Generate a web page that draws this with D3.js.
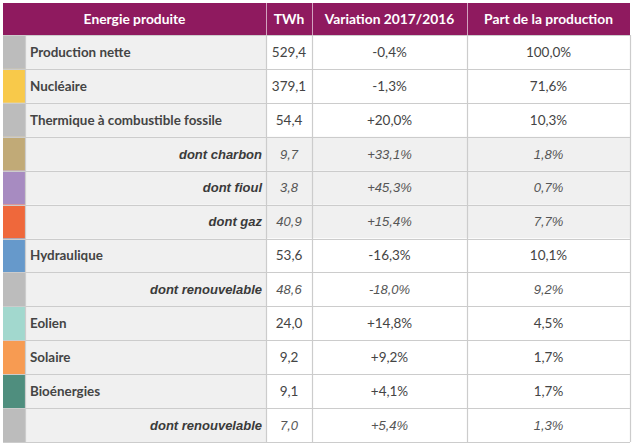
<!DOCTYPE html>
<html><head><meta charset="utf-8">
<script src="https://cdn.jsdelivr.net/npm/d3@7"></script>
<style>body{margin:0;background:#fff}svg{display:block}</style>
</head><body>
<svg id="c" width="634" height="447"></svg>
<script>
const headers = ["Energie produite", "TWh", "Variation 2017/2016", "Part de la production"];
const categories = ["Production nette","Nucléaire","Thermique à combustible fossile","dont charbon","dont fioul","dont gaz","Hydraulique","dont renouvelable","Eolien","Solaire","Bioénergies","dont renouvelable"];
const twh = ["529,4","379,1","54,4","9,7","3,8","40,9","53,6","48,6","24,0","9,2","9,1","7,0"];
const variation = ["-0,4%","-1,3%","+20,0%","+33,1%","+45,3%","+15,4%","-16,3%","-18,0%","+14,8%","+9,2%","+4,1%","+5,4%"];
const part = ["100,0%","71,6%","10,3%","1,8%","0,7%","7,7%","10,1%","9,2%","4,5%","1,7%","1,7%","1,3%"];
const isSub = [false,false,false,true,true,true,false,true,false,false,false,true];
const greyValues = [false,false,false,true,true,true,false,false,false,false,false,false];
const swatches = ["#bcbcbc","#f8c94a","#bcbcbc","#c1aa77","#a78bc1","#ef683b","#6699cb","#bcbcbc","#a2d8ce","#f79b52","#4f8e7e","#bcbcbc"];

const svg = d3.select("#c");
const colEdges = [3, 25, 266, 312, 467, 630];
const headerTop = 3, headerBottom = 35, bottom = 442;
const y = d3.scaleBand().domain(d3.range(categories.length)).range([headerBottom, bottom]);
const grid = "#cccccc";
const purple = "#8f1a5f";

// header
svg.append("rect").attr("x", 3).attr("y", headerTop).attr("width", 630-3).attr("height", headerBottom-headerTop).attr("fill", purple);
const hdrX = [(colEdges[0]+colEdges[2])/2, (colEdges[2]+colEdges[3])/2, (colEdges[3]+colEdges[4])/2, (colEdges[4]+colEdges[5])/2];
svg.selectAll("text.h").data(headers).join("text")
  .attr("x", (d,i)=>hdrX[i]).attr("y", (headerTop+headerBottom)/2+5)
  .attr("text-anchor","middle").attr("fill","#fff")
  .style("font-family","Lato, 'Open Sans', sans-serif").style("font-weight","700").style("font-size","13.8px")
  .text(d=>d);
[2,3,4].forEach(i=>svg.append("line").attr("x1",colEdges[i]+0.5).attr("x2",colEdges[i]+0.5).attr("y1",headerTop).attr("y2",headerBottom).attr("stroke","#fff").attr("stroke-opacity",0.6));

// rows
const rows = svg.selectAll("g.row").data(categories).join("g").attr("transform",(d,i)=>`translate(0,${y(i)})`);
const h = y.bandwidth();
rows.append("rect").attr("x",colEdges[1]).attr("width",colEdges[2]-colEdges[1]).attr("height",h).attr("fill","#f0f0f0");
rows.append("rect").attr("x",colEdges[2]).attr("width",colEdges[5]-colEdges[2]).attr("height",h).attr("fill",(d,i)=>greyValues[i]?"#f0f0f0":"#fff");
rows.append("rect").attr("x",colEdges[0]).attr("width",colEdges[1]-colEdges[0]).attr("height",h).attr("fill",(d,i)=>swatches[i]);

// grid
svg.selectAll("line.hg").data(d3.range(categories.length+1)).join("line")
  .attr("x1",3).attr("x2",630)
  .attr("y1",i=>Math.round(i<categories.length?y(i):bottom)+0.5).attr("y2",i=>Math.round(i<categories.length?y(i):bottom)+0.5)
  .attr("stroke",grid).attr("stroke-width",1.2);
[1,2,3,4,5].forEach(i=>svg.append("line").attr("x1",colEdges[i]+0.5).attr("x2",colEdges[i]+0.5).attr("y1",headerBottom).attr("y2",bottom).attr("stroke",grid).attr("stroke-width",1.2));

// labels
rows.append("text")
  .attr("x",(d,i)=>isSub[i]?262:30).attr("y",h/2+4.8)
  .attr("text-anchor",(d,i)=>isSub[i]?"end":"start")
  .attr("fill",(d,i)=>isSub[i]?"#3a3a3a":"#444")
  .style("font-family",(d,i)=>isSub[i]?"'Liberation Sans', Arial, sans-serif":"Lato, 'Open Sans', sans-serif")
  .style("font-weight","700").style("font-style",(d,i)=>isSub[i]?"italic":"normal")
  .style("font-size",(d,i)=>isSub[i]?"13px":"13.4px")
  .text(d=>d);

const valCols = [twh, variation, part];
valCols.forEach((arr,k)=>{
  rows.append("text")
    .attr("x",hdrX[k+1]).attr("y",h/2+4.8).attr("text-anchor","middle")
    .attr("fill",(d,i)=>isSub[i]?"#555":"#444")
    .style("font-family",(d,i)=>isSub[i]?"'Liberation Sans', Arial, sans-serif":"Lato, 'Open Sans', sans-serif")
    .style("font-style",(d,i)=>isSub[i]?"italic":"normal")
    .style("font-size",(d,i)=>isSub[i]?"13px":"13.5px")
    .text((d,i)=>arr[i]);
});
</script>
</body></html>
